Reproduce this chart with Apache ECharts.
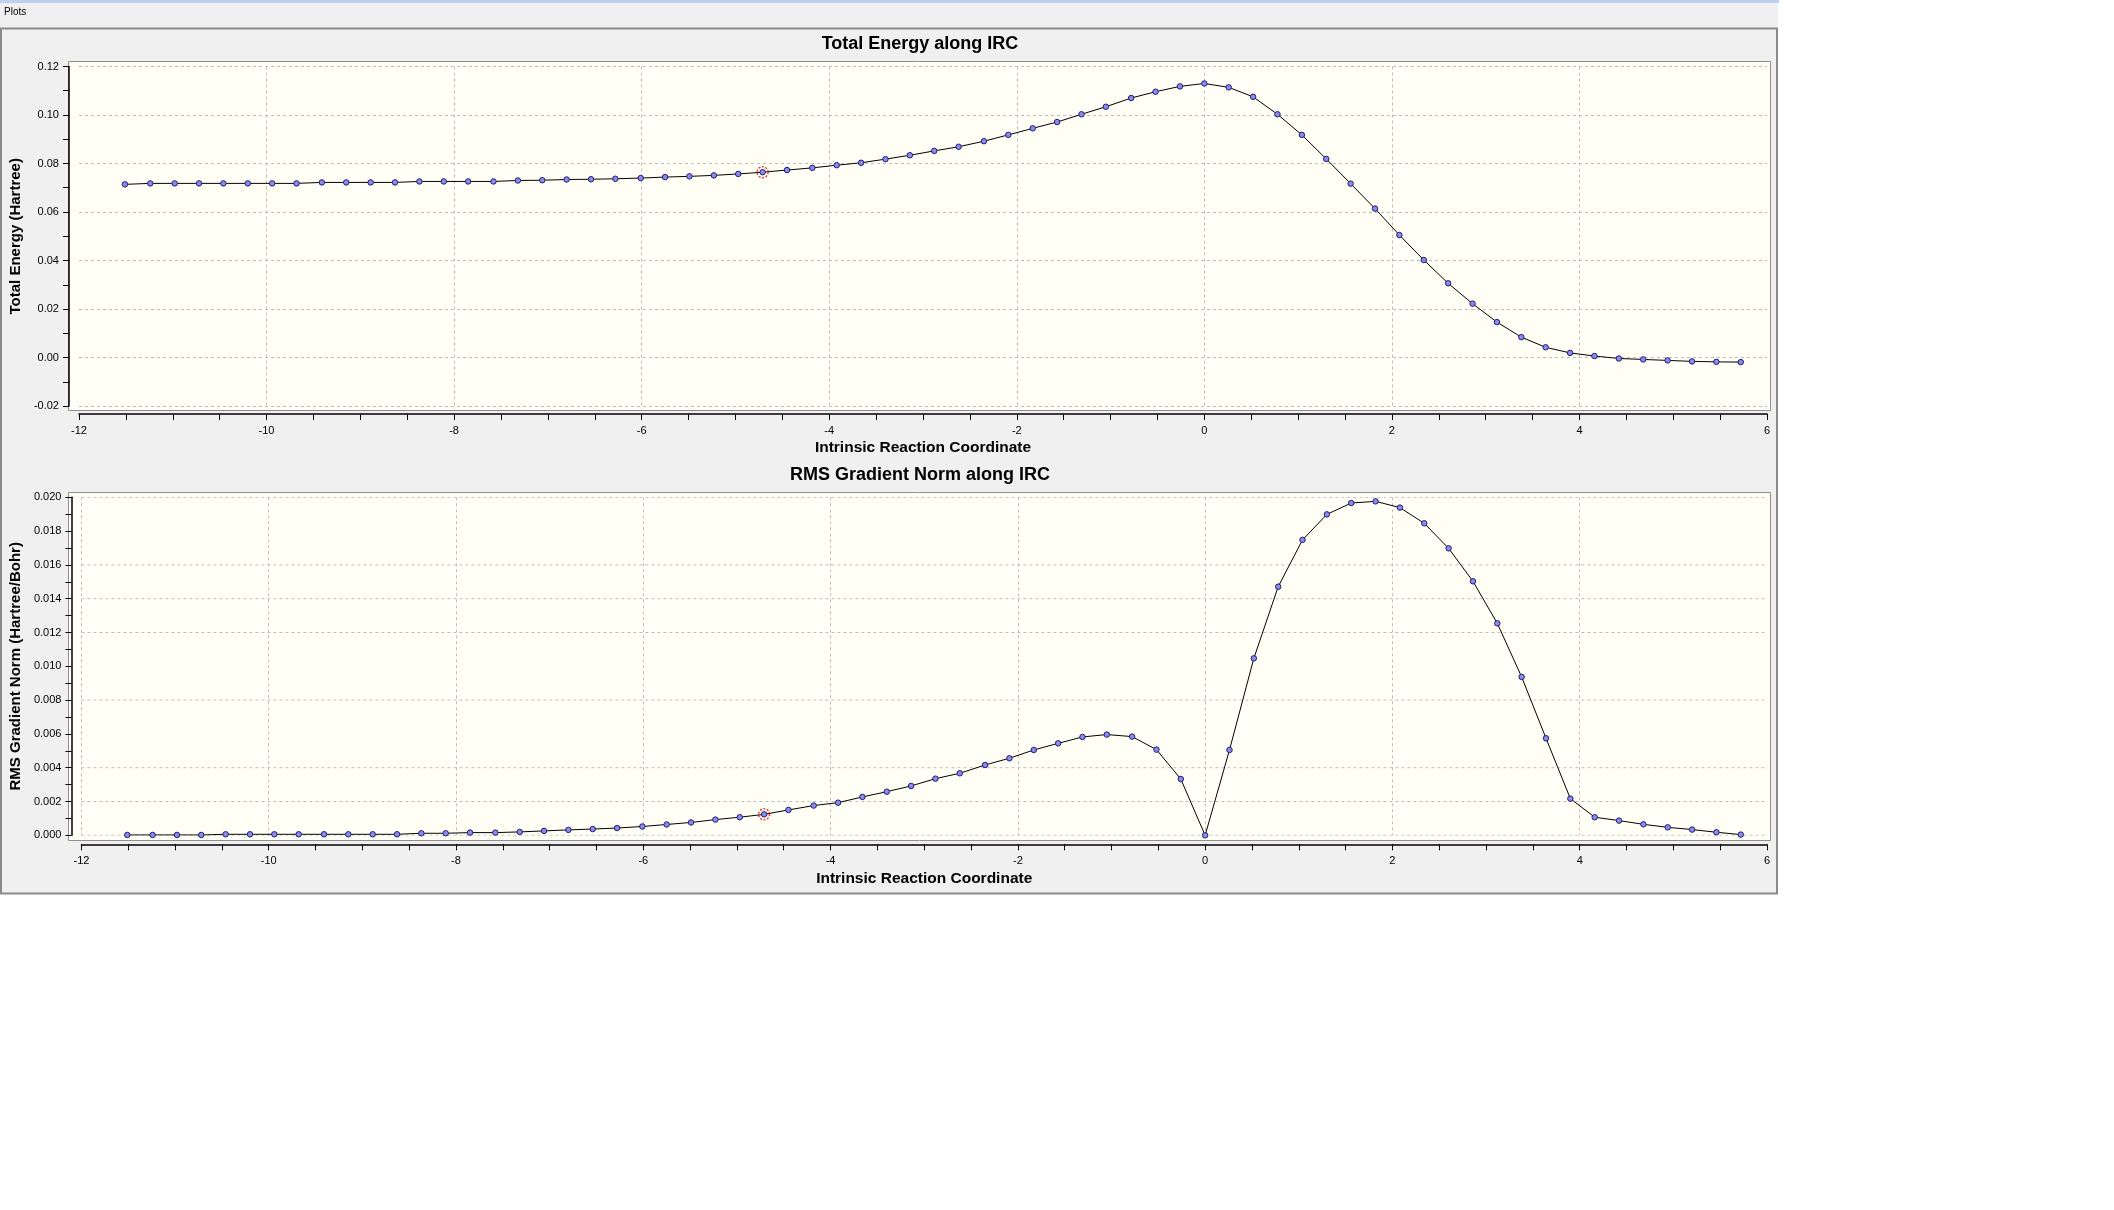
<!DOCTYPE html>
<html>
<head>
<meta charset="utf-8">
<title>Plots</title>
<script src="https://cdn.jsdelivr.net/npm/echarts@6/dist/echarts.min.js"></script>
<style>
  html, body { margin: 0; padding: 0; background: #ffffff; }
  #plots { width: 2114px; height: 1210px; }
</style>
</head>
<body>
<div id="plots"></div>
<script>
// reaction coordinate of every IRC point (shared by both plots)
var ircCoord = [-11.51, -11.24, -10.98, -10.72, -10.46, -10.20, -9.94, -9.68, -9.41, -9.15,
  -8.89, -8.63, -8.37, -8.11, -7.85, -7.58, -7.32, -7.06, -6.80, -6.54,
  -6.28, -6.01, -5.75, -5.49, -5.23, -4.97, -4.71, -4.45, -4.18, -3.92,
  -3.66, -3.40, -3.14, -2.88, -2.62, -2.35, -2.09, -1.83, -1.57, -1.31,
  -1.05, -0.78, -0.52, -0.26, 0.00, 0.26, 0.52, 0.78, 1.04, 1.30,
  1.56, 1.82, 2.08, 2.34, 2.60, 2.86, 3.12, 3.38, 3.64, 3.90,
  4.16, 4.42, 4.68, 4.94, 5.20, 5.46, 5.72];

// Total energy (Hartree)
var totalEnergy = [0.0714, 0.0718, 0.0718, 0.0718, 0.0718, 0.0718, 0.0718, 0.0718, 0.0722, 0.0722,
  0.0722, 0.0722, 0.0726, 0.0726, 0.0726, 0.0726, 0.0730, 0.0731, 0.0734, 0.0735,
  0.0737, 0.0740, 0.0744, 0.0747, 0.0751, 0.0757, 0.0764, 0.0773, 0.0782, 0.0793,
  0.0803, 0.0818, 0.0834, 0.0852, 0.0869, 0.0892, 0.0918, 0.0945, 0.0971, 0.1003,
  0.1034, 0.1070, 0.1096, 0.1118, 0.1130, 0.1114, 0.1075, 0.1003, 0.0918, 0.0819,
  0.0717, 0.0614, 0.0505, 0.0402, 0.0306, 0.0222, 0.0146, 0.0084, 0.0042, 0.0019,
  0.0006, -0.0004, -0.0008, -0.0012, -0.0016, -0.0018, -0.0019];

// RMS gradient norm (Hartree/Bohr)
var gradNorm = [0.00002, 0.00002, 0.00002, 0.00002, 0.00006, 0.00006, 0.00006, 0.00006, 0.00006, 0.00006,
  0.00006, 0.00006, 0.00012, 0.00012, 0.00016, 0.00016, 0.00020, 0.00026, 0.00032, 0.00037,
  0.00043, 0.00052, 0.00064, 0.00076, 0.00093, 0.00107, 0.00124, 0.00150, 0.00176, 0.00193,
  0.00227, 0.00258, 0.00292, 0.00335, 0.00367, 0.00416, 0.00456, 0.00505, 0.00544, 0.00582,
  0.00596, 0.00584, 0.00507, 0.00333, 0.00000, 0.00505, 0.01047, 0.01471, 0.01748, 0.01899,
  0.01966, 0.01976, 0.01939, 0.01846, 0.01698, 0.01503, 0.01254, 0.00937, 0.00574, 0.00217,
  0.00107, 0.00087, 0.00065, 0.00047, 0.00034, 0.00018, 0.00004];

// highlighted (current) point
var currentIrc = -4.71;

// axis ranges: [min, max, interval]
var ircAxis = [-12, 6, 2];
var energyAxis = [-0.02, 0.12, 0.02];
var gradAxis = [0, 0.02, 0.002];
// the gradient plot only draws some of its grid lines
var gradGridLines = [0.020, 0.016, 0.014, 0.012, 0.008, 0.004, 0.002, 0.000];

var FONT = 'Liberation Sans, Arial, sans-serif';
var GRID_COLOR = '#bdbdbd';

function pairs(ys) {
  return ircCoord.map(function (x, i) { return [x, ys[i]]; });
}
var hi = ircCoord.indexOf(currentIrc);

function fmt(d) {
  return function (v) { return (Math.abs(v) < 1e-9 ? 0 : v).toFixed(d); };
}

function xAxisFor(gi, offset, minLine) {
  return {
    type: 'value', gridIndex: gi, min: ircAxis[0], max: ircAxis[1], interval: ircAxis[2],
    offset: offset,
    name: 'Intrinsic Reaction Coordinate', nameLocation: 'middle', nameGap: 26,
    nameTextStyle: { fontFamily: FONT, fontWeight: 'bold', fontSize: 15.5, color: '#000' },
    axisLine: { show: true, onZero: false, lineStyle: { color: '#000', width: 1.5 } },
    axisTick: { show: true, length: 6, lineStyle: { color: '#000' } },
    minorTick: { show: true, splitNumber: 4, length: 6, lineStyle: { color: '#000' } },
    axisLabel: { margin: 11, fontFamily: FONT, fontSize: 11, color: '#000', formatter: fmt(0) },
    splitLine: { show: true, showMinLine: minLine, showMaxLine: false,
      lineStyle: { color: GRID_COLOR, type: [3, 3], width: 1 } }
  };
}

function yAxisFor(gi, range, name, decimals, showSplit) {
  return {
    type: 'value', gridIndex: gi, min: range[0], max: range[1], interval: range[2],
    offset: 10,
    name: name, nameLocation: 'middle', nameGap: 40,
    nameTextStyle: { fontFamily: FONT, fontWeight: 'bold', fontSize: 15, color: '#000' },
    axisLine: { show: true, onZero: false, lineStyle: { color: '#000', width: 1.5 } },
    axisTick: { show: true, length: 6, lineStyle: { color: '#000' } },
    minorTick: { show: true, splitNumber: 2, length: 6, lineStyle: { color: '#000' } },
    axisLabel: { margin: 10, fontFamily: FONT, fontSize: 11, color: '#000', formatter: fmt(decimals) },
    splitLine: { show: showSplit, lineStyle: { color: GRID_COLOR, type: [3, 3], width: 1 } }
  };
}

var pointStyle = { color: '#8c8ce6', borderColor: '#1e1e78', borderWidth: 1 };

function curve(gi, ys) {
  return {
    type: 'line', xAxisIndex: gi, yAxisIndex: gi, data: pairs(ys),
    symbol: 'circle', symbolSize: 5.5, showSymbol: true, showAllSymbol: true,
    itemStyle: pointStyle,
    lineStyle: { color: '#000', width: 1 },
    emphasis: { disabled: true }, silent: true, z: 2
  };
}

function ring(gi, ys) {
  return {
    type: 'scatter', xAxisIndex: gi, yAxisIndex: gi,
    data: [[currentIrc, ys[hi]]],
    symbol: 'circle', symbolSize: 11,
    itemStyle: { color: 'rgba(0,0,0,0)', borderColor: '#e01010', borderWidth: 1.5, borderType: [2, 1.5] },
    emphasis: { disabled: true }, silent: true, z: 3
  };
}

// dashed horizontal grid line of the gradient plot, from the axis ends
function gridLine(v) {
  return {
    type: 'line', xAxisIndex: 1, yAxisIndex: 1,
    data: [[ircAxis[0], v], [ircAxis[1], v]],
    symbol: 'none', silent: true, z: 1,
    lineStyle: { color: GRID_COLOR, type: [3, 3], width: 1 },
    emphasis: { disabled: true }
  };
}

var chart = echarts.init(document.getElementById('plots'));

var series = [curve(0, totalEnergy), ring(0, totalEnergy)];
gradGridLines.forEach(function (v) { series.push(gridLine(v)); });
series.push(curve(1, gradNorm), ring(1, gradNorm));

var option = {
  animation: false,
  backgroundColor: '#ffffff',
  graphic: {
    elements: [
      // window background, title strip and panel frame
      { type: 'rect', z: -10, silent: true, shape: { x: 0, y: 0, width: 1778, height: 894 }, style: { fill: '#f0f0f0' } },
      { type: 'rect', z: -10, silent: true, shape: { x: 0, y: 0, width: 1779, height: 3 }, style: { fill: '#bad2eb' } },
      { type: 'rect', z: -10, silent: true, shape: { x: 1, y: 28.5, width: 1776, height: 865 },
        style: { fill: 'none', stroke: '#8a8a8a', lineWidth: 2 } },
      { type: 'text', z: 5, silent: true, x: 4, y: 7,
        style: { text: 'Plots', fontFamily: FONT, fontSize: 10, fill: '#000' } },
      // plot boxes
      { type: 'rect', z: -10, silent: true, shape: { x: 68.5, y: 61.5, width: 1702, height: 349 },
        style: { fill: '#fffff5', stroke: '#8f8f8f', lineWidth: 1 } },
      { type: 'rect', z: -10, silent: true, shape: { x: 68.5, y: 492.5, width: 1702, height: 348 },
        style: { fill: '#fffff5', stroke: '#8f8f8f', lineWidth: 1 } }
    ]
  },
  title: [
    { text: 'Total Energy along IRC', left: 920, top: 35, textAlign: 'center', padding: 0,
      textStyle: { fontFamily: FONT, fontSize: 18, fontWeight: 'bold', color: '#000' } },
    { text: 'RMS Gradient Norm along IRC', left: 920, top: 466, textAlign: 'center', padding: 0,
      textStyle: { fontFamily: FONT, fontSize: 18, fontWeight: 'bold', color: '#000' } }
  ],
  grid: [
    { left: 73, top: 66.5, width: 1694, height: 339.5 },
    { left: 73, top: 497.3, width: 1694, height: 338 }
  ],
  xAxis: [xAxisFor(0, 8, false), xAxisFor(1, 9, true)],
  yAxis: [
    yAxisFor(0, energyAxis, 'Total Energy (Hartree)', 2, true),
    yAxisFor(1, gradAxis, 'RMS Gradient Norm (Hartree/Bohr)', 3, false)
  ],
  series: series
};

chart.setOption(option);
</script>
</body>
</html>
